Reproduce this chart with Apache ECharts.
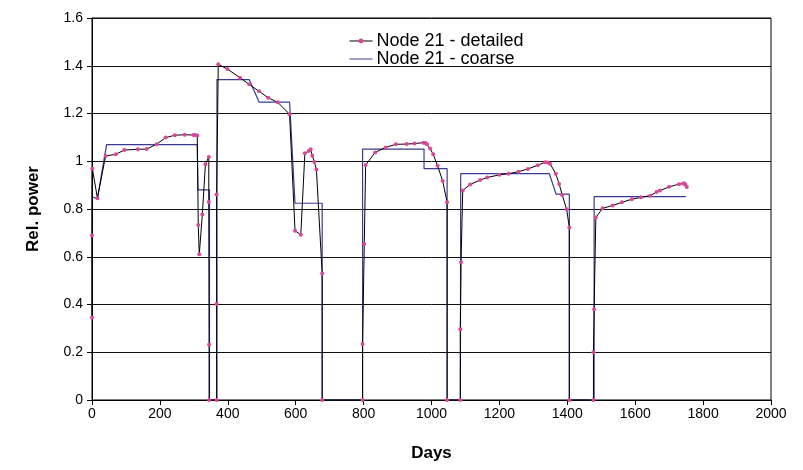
<!DOCTYPE html>
<html>
<head>
<meta charset="utf-8">
<title>Node 21 - relative power</title>
<script src="https://cdn.jsdelivr.net/npm/echarts@6/dist/echarts.min.js"></script>
<style>
    html, body { margin: 0; padding: 0; background: #fff; }
    #chart { width: 803px; height: 470px; }
</style>
</head>
<body>
<div id="chart"></div>
<script>
// 数据：[天数, 相对功率]
var detailedDays = [0, 0, 1, 16, 40, 70, 95, 135, 161, 190, 217, 244, 273, 299, 304, 310,
    313, 316, 325, 334, 344, 344, 345, 345, 367, 367, 367, 372, 399, 436, 463, 492, 519, 547, 582,
    598, 615, 627, 638, 644, 649, 655, 661, 678, 678, 797, 797, 802, 806, 834, 865, 895, 927, 950,
    976, 982, 987, 996, 1005, 1018, 1033, 1046, 1046, 1085, 1085, 1087, 1092, 1114, 1143, 1164,
    1200, 1227, 1256, 1284, 1313, 1335, 1342, 1349, 1366, 1376, 1385, 1398, 1406, 1406, 1477, 1477,
    1479, 1484, 1504, 1534, 1561, 1590, 1617, 1644, 1663, 1673, 1700, 1729, 1741, 1745, 1748, 1752];
var detailedPower = [0.346, 0.69, 0.97, 0.845, 1.022, 1.029, 1.047, 1.05, 1.051, 1.071, 1.099, 1.109, 1.111, 1.11, 1.11, 1.108,
    0.733, 0.61, 0.777, 0.987, 1.018, 0.829, 0.232, 0, 0, 0.402, 0.861, 1.406, 1.386, 1.35, 1.322, 1.293, 1.266, 1.247, 1.197,
    0.709, 0.692, 1.033, 1.043, 1.05, 1.023, 0.997, 0.965, 0.53, 0, 0, 0.235, 0.653, 0.984, 1.037, 1.058, 1.071, 1.072, 1.074,
    1.078, 1.076, 1.071, 1.053, 1.029, 0.981, 0.917, 0.828, 0, 0, 0.296, 0.577, 0.878, 0.903, 0.921, 0.932,
    0.943, 0.948, 0.956, 0.968, 0.983, 0.996, 0.995, 0.99, 0.948, 0.905, 0.859, 0.799, 0.723, 0, 0, 0.2,
    0.38, 0.764, 0.803, 0.815, 0.828, 0.841, 0.849, 0.856, 0.871, 0.877, 0.893, 0.904, 0.907, 0.907, 0.902, 0.892];

var coarseDays = [0, 16, 43, 310, 312, 346, 346, 368, 368, 463, 492, 582, 598, 678, 678, 797, 797,
    978, 978, 1046, 1046, 1085, 1086, 1347, 1367, 1406, 1406, 1479, 1479, 1749];
var coarsePower = [0.85, 0.845, 1.07, 1.07, 0.88, 0.88, 0, 0, 1.342, 1.342, 1.248, 1.248, 0.824, 0.824, 0, 0, 1.051,
    1.051, 0.969, 0.969, 0, 0, 0.948, 0.948, 0.862, 0.862, 0, 0, 0.852, 0.852];

var seriesNames = ['Node 21 - detailed', 'Node 21 - coarse'];

(function (win) {
    var chart = echarts.init(document.getElementById('chart'), null, { renderer: 'canvas' });

    function pairs(xs, ys) {
        var out = [];
        for (var i = 0; i < xs.length; i++) {
            out.push([xs[i], ys[i]]);
        }
        return out;
    }

    var font = 'Arial, "Liberation Sans", sans-serif';

    chart.setOption({
        animation: false,
        backgroundColor: '#fff',
        textStyle: { fontFamily: font },
        grid: {
            left: 92,
            top: 18,
            right: 32,
            bottom: 70,
            show: true,
            borderColor: '#000',
            borderWidth: 1
        },
        legend: {
            orient: 'vertical',
            left: 349,
            top: 32,
            padding: 0,
            itemWidth: 23,
            itemHeight: 6,
            itemGap: 0,
            lineStyle: { width: 1 },
            textStyle: { fontSize: 18, lineHeight: 17, color: '#000', fontFamily: font, padding: [0, 0, 0, -1] },
            data: [
                { name: seriesNames[0] },
                { name: seriesNames[1], icon: 'path://M0,0L23,0L23,1.2L0,1.2Z', itemStyle: { color: '#5a5aa6' } }
            ]
        },
        xAxis: {
            type: 'value',
            min: 0,
            max: 2000,
            interval: 200,
            name: 'Days',
            nameLocation: 'middle',
            nameGap: 45,
            nameTextStyle: { fontSize: 17, fontWeight: 'bold', color: '#000' },
            axisLine: { lineStyle: { color: '#000' } },
            axisTick: { show: true, length: 5, lineStyle: { color: '#000' } },
            axisLabel: {
                fontSize: 14,
                color: '#000',
                margin: 7,
                formatter: function (v) { return String(v); }
            },
            splitLine: { show: false }
        },
        yAxis: {
            type: 'value',
            min: 0,
            max: 1.6,
            interval: 0.2,
            name: 'Rel. power',
            nameLocation: 'middle',
            nameGap: 50,
            nameTextStyle: { fontSize: 17, fontWeight: 'bold', color: '#000' },
            axisLine: { show: true, lineStyle: { color: '#000' } },
            axisTick: { show: true, length: 5, lineStyle: { color: '#000' } },
            axisLabel: { fontSize: 14, color: '#000', margin: 9 },
            splitLine: { show: true, lineStyle: { color: '#111', width: 1 } }
        },
        series: [
            {
                name: seriesNames[0],
                type: 'line',
                data: pairs(detailedDays, detailedPower),
                symbol: 'circle',
                symbolSize: 4,
                showAllSymbol: true,
                lineStyle: { color: '#000', width: 1 },
                itemStyle: { color: '#d9479a', borderWidth: 0 },
                z: 3
            },
            {
                name: seriesNames[1],
                type: 'line',
                data: pairs(coarseDays, coarsePower),
                symbol: 'none',
                lineStyle: { color: '#3a3a92', width: 1.2 },
                itemStyle: { color: '#3a3a92' },
                z: 2
            }
        ]
    });
})(this);
</script>
</body>
</html>
